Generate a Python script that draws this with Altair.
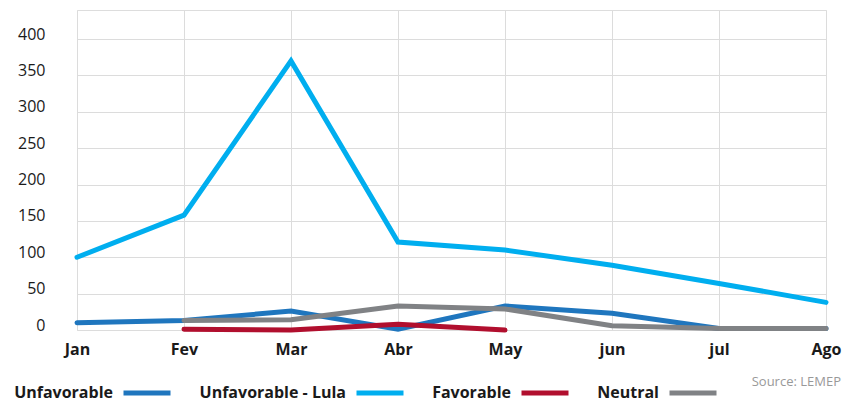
import altair as alt
import pandas as pd

# Monthly counts per sentiment category
months = ["Jan", "Fev", "Mar", "Abr", "May", "jun", "jul", "Ago"]
unfavorable = [10, 13, 26, 1, 33, 23, 2, 2]
unfavorable_lula = [100, 158, 370, 121, 110, 89, 64, 38]
favorable = [None, 1, 0, 8, 0, None, None, None]
neutral = [None, 13, 14, 33, 29, 6, 2, 2]

series_names = ["Unfavorable", "Unfavorable - Lula", "Favorable", "Neutral"]
series_colors = ["#1f76be", "#00aeef", "#b10f2e", "#808285"]
y_ticks = [0, 50, 100, 150, 200, 250, 300, 350, 400]

rows = []
for name, values in zip(series_names, [unfavorable, unfavorable_lula, favorable, neutral]):
    for m, v in zip(months, values):
        if v is not None:
            rows.append({"month": m, "count": v, "series": name})
df = pd.DataFrame(rows)

FONT = "Open Sans"

color = alt.Color(
    "series:N",
    scale=alt.Scale(domain=series_names, range=series_colors),
    legend=alt.Legend(
        title=None,
        orient="none",
        legendX=44,
        legendY=357,
        direction="horizontal",
        symbolType="stroke",
        symbolSize=2209,
        symbolStrokeWidth=5,
        # right-aligned labels pulled back so they sit left of the line symbol
        labelAlign="right",
        labelOffset=alt.ExprRef("-60"),
        labelFont=FONT,
        labelFontWeight="bold",
        labelFontSize=16,
        labelColor="#1a1a1a",
        labelLimit=300,
        columnPadding=18,
    ),
)

base = alt.Chart(df).encode(
    x=alt.X(
        "month:N",
        sort=months,
        scale=alt.Scale(type="point", padding=0),
        axis=alt.Axis(
            title=None,
            labelAngle=0,
            labelFont=FONT,
            labelFontWeight="bold",
            labelFontSize=16,
            labelColor="#1a1a1a",
            labelPadding=11,
            ticks=False,
            domain=False,
            grid=True,
            gridColor="#dcdcdc",
            gridWidth=1,
        ),
    ),
    y=alt.Y(
        "count:Q",
        scale=alt.Scale(domain=[0, 440], nice=False),
        axis=alt.Axis(
            title=None,
            values=y_ticks,
            labelFont=FONT,
            labelFontSize=16,
            labelColor="#1a1a1a",
            labelBaseline="alphabetic",
            labelPadding=32,
            ticks=False,
            domain=False,
            grid=True,
            gridColor="#dcdcdc",
            gridWidth=1,
        ),
    ),
    color=color,
)

# one layer per series so the drawing order is fixed
layers = [
    base.transform_filter(alt.datum.series == name).mark_line(
        strokeWidth=5, strokeCap="round", strokeJoin="miter"
    )
    for name in series_names
]

chart = (
    alt.layer(*layers)
    .properties(
        width=749,
        height=320,
        padding={"left": 77, "top": 10, "right": 17, "bottom": 73},
        autosize=alt.AutoSizeParams(type="none"),
        title=alt.TitleParams(
            "Source: LEMEP",
            orient="bottom",
            anchor="end",
            frame="group",
            font=FONT,
            fontSize=13,
            fontWeight="normal",
            color="#999999",
            offset=-27,
            dx=15,
        ),
    )
    .configure_view(stroke=None)
    .configure(background="white")
)

chart.save("out.html", embed_options={"renderer": "svg", "actions": False})
